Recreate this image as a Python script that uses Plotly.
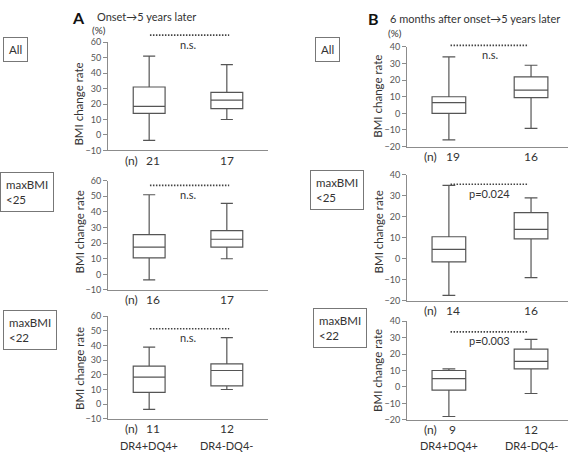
import plotly.graph_objects as go

W, H = 569, 456
FONT = "Lato, 'Noto Sans', sans-serif"

# ---------------- data ----------------
groups = ["DR4+DQ4+", "DR4-DQ4-"]
panel_names = ["L1", "L2", "L3", "R1", "R2", "R3"]
# box statistics: [lower whisker, q1, median, q3, upper whisker] for each group
box_g1 = {
    "L1": [-3.5, 14, 18.5, 31, 51],
    "L2": [-3.5, 10.5, 17.5, 25.5, 51],
    "L3": [-3.5, 8, 18.5, 26, 39],
    "R1": [-16, 0, 6.5, 10, 34],
    "R2": [-17.5, -1.5, 4.5, 10.5, 35],
    "R3": [-18, -2, 5, 10, 11],
}
box_g2 = {
    "L1": [10, 17, 22.5, 27.5, 45.5],
    "L2": [10, 17.5, 22.5, 28, 45.5],
    "L3": [10, 12.5, 23, 27.5, 45.5],
    "R1": [-9, 9.5, 14, 22, 29],
    "R2": [-9, 9.5, 14, 22, 29],
    "R3": [-4, 11, 15.5, 23, 29],
}
n_g1 = {"L1": 21, "L2": 16, "L3": 11, "R1": 19, "R2": 14, "R3": 9}
n_g2 = {"L1": 17, "L2": 17, "L3": 12, "R1": 16, "R2": 16, "R3": 12}
sig_level = {"L1": 64.5, "L2": 57, "L3": 51.5, "R1": 41, "R2": 35.5, "R3": 33.5}
sig_text = {"L1": "n.s.", "L2": "n.s.", "L3": "n.s.", "R1": "n.s.", "R2": "p=0.024", "R3": "p=0.003"}
row_labels = ["All", "maxBMI<br>&lt;25", "maxBMI<br>&lt;22"]

# ---------------- layout geometry (pixels) ----------------
col_x = {"L": (108, 268), "R": (407, 568)}
col_xrange = {"L": [-0.53, 1.53], "R": [-0.51, 1.45]}
col_yrange = {"L": [-10, 60], "R": [-20, 40]}
col_sig_x = {"L": (0.01, 1.03), "R": (0.02, 0.97)}
panel_ypx = {"L1": (37, 148), "L2": (179, 291), "L3": (318, 423),
             "R1": (42, 144), "R2": (173, 302), "R3": (323, 424)}
ytitle_px = {"L1": 101, "L2": 232, "L3": 372, "R1": 93, "R2": 232, "R3": 374}
label_box_px = {"L": [(16, 45), (27, 191), (30, 332)], "R": [(327, 45), (337, 189), (340, 330)]}


def px_x(x):
    return x / W


def px_y(y):
    return 1 - y / H


fig = go.Figure()
axis_col = "#8c8c8c"
box_col = "#555555"
txt_col = "#333333"

annotations = []
shapes = []


def ann(**kw):
    kw.setdefault("xanchor", "center")
    kw.setdefault("yanchor", "middle")
    kw.setdefault("showarrow", False)
    annotations.append(kw)


for i, p in enumerate(panel_names):
    col = p[0]
    ax_i = i + 1
    xa = "x" if ax_i == 1 else f"x{ax_i}"
    ya = "y" if ax_i == 1 else f"y{ax_i}"
    y0px, y1px = panel_ypx[p]
    x0px, x1px = col_x[col]
    for gi, stats in enumerate([box_g1[p], box_g2[p]]):
        lf, q1, med, q3, uf = stats
        fig.add_trace(go.Box(
            x=[gi], q1=[q1], median=[med], q3=[q3], lowerfence=[lf], upperfence=[uf],
            width=0.41, whiskerwidth=0.38, fillcolor="white",
            line=dict(color=box_col, width=1.2), boxpoints=False,
            xaxis=xa, yaxis=ya, showlegend=False, hoverinfo="skip",
        ))
    xkey = "xaxis" if ax_i == 1 else f"xaxis{ax_i}"
    ykey = "yaxis" if ax_i == 1 else f"yaxis{ax_i}"
    fig.update_layout(**{
        xkey: dict(domain=[px_x(x0px), px_x(x1px)], range=col_xrange[col], anchor=ya,
                   showline=True, linecolor=axis_col, linewidth=1, showgrid=False,
                   zeroline=False, showticklabels=False, ticks=""),
        ykey: dict(domain=[px_y(y1px), px_y(y0px)], range=col_yrange[col], anchor=xa,
                   showline=True, linecolor=axis_col, linewidth=1, showgrid=False,
                   zeroline=False, ticks="outside", ticklen=4, tickcolor=axis_col,
                   dtick=10, tickfont=dict(size=9, color="#555555", family=FONT)),
    })
    # significance dotted line
    yr = col_yrange[col]
    frac = (sig_level[p] - yr[0]) / (yr[1] - yr[0])
    ypaper = px_y(y1px) + frac * (px_y(y0px) - px_y(y1px))
    sx0, sx1 = col_sig_x[col]
    shapes.append(dict(type="line", xref=xa, yref="paper", x0=sx0, x1=sx1,
                       y0=ypaper, y1=ypaper,
                       line=dict(color="#444444", width=1.6, dash="1.5px,1.5px")))
    ann(xref=xa, yref="paper", x=0.5, y=ypaper, yshift=-9, text=sig_text[p],
        font=dict(size=11, color=txt_col, family=FONT))
    # n labels
    ny = px_y(y1px + 10)
    ann(xref=xa, yref="paper", x=0, y=ny, xshift=4, text=str(n_g1[p]),
        font=dict(size=12, color=txt_col, family=FONT))
    ann(xref=xa, yref="paper", x=0, y=ny, xshift=-18, text="(n)",
        font=dict(size=12, color=txt_col, family=FONT))
    ann(xref=xa, yref="paper", x=1, y=ny, text=str(n_g2[p]),
        font=dict(size=12, color=txt_col, family=FONT))
    # y-axis title
    ann(xref="paper", yref="paper", x=px_x(x0px - 29), y=px_y(ytitle_px[p]),
        text="BMI change rate", textangle=-90,
        font=dict(size=11.5, color=txt_col, family=FONT))
    # group labels under bottom panels
    if p.endswith("3"):
        for gi, g in enumerate(groups):
            ann(xref=xa, yref="paper", x=gi, y=px_y(450), text=g,
                font=dict(size=11, color=txt_col, family=FONT))

# row label boxes
for col in ["L", "R"]:
    for (cx, cy), lab in zip(label_box_px[col], row_labels):
        ann(xref="paper", yref="paper", x=px_x(cx), y=px_y(cy), text=lab, align="left",
            bordercolor="#777777", borderwidth=1, borderpad=5, bgcolor="white",
            font=dict(size=11.5, color=txt_col, family=FONT))

# (%) labels
ann(xref="paper", yref="paper", x=px_x(99), y=px_y(25), text="(%)",
    font=dict(size=10, color=txt_col, family=FONT))
ann(xref="paper", yref="paper", x=px_x(395), y=px_y(28), text="(%)",
    font=dict(size=10, color=txt_col, family=FONT))
# panel titles
ann(xref="paper", yref="paper", x=px_x(78), y=px_y(12), text="<b>A</b>",
    font=dict(size=16, color="#111111", family=FONT))
ann(xref="paper", yref="paper", x=px_x(95), y=px_y(11), xanchor="left",
    text="Onset→5 years later", font=dict(size=11, color=txt_col, family=FONT))
ann(xref="paper", yref="paper", x=px_x(373), y=px_y(13), text="<b>B</b>",
    font=dict(size=16, color="#111111", family=FONT))
ann(xref="paper", yref="paper", x=px_x(388), y=px_y(13), xanchor="left",
    text="6 months after onset→5 years later",
    font=dict(size=11, color=txt_col, family=FONT))

fig.update_layout(
    width=W, height=H, margin=dict(l=0, r=0, t=0, b=0),
    plot_bgcolor="white", paper_bgcolor="white",
    annotations=annotations, shapes=shapes, showlegend=False,
    font=dict(family=FONT),
)
fig.write_html("out.html", config={"displayModeBar": False},
               post_script="document.body.style.margin='0';document.body.style.overflow='hidden';")
